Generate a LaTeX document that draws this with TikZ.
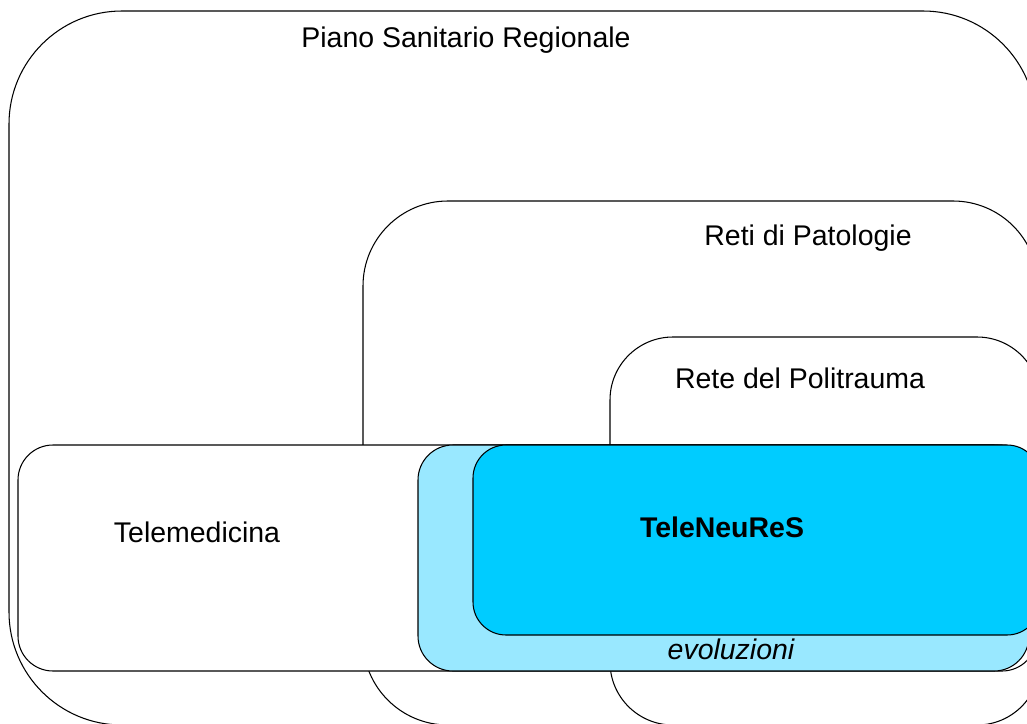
\documentclass[tikz,border=0pt]{standalone}
\usepackage{fontspec}
\setmainfont{Liberation Sans}
\definecolor{evolblue}{HTML}{99E8FF}
\definecolor{neublue}{HTML}{00CCFF}
\tikzset{
	area/.style = {draw = black, line width = 0.6pt},
	areatext/.style = {anchor = base, inner sep = 0pt, font = \fontsize{16.2}{19}\selectfont}
}

\begin{document}
\begin{tikzpicture}[x = 0.02cm, y = -0.02cm]
	 \useasboundingbox (0, 0) rectangle (1027, 723);
	 \clip (0, 0) rectangle (1027, 723);
	 
	 \draw[area] (1036, 725) [rounded corners = 2.26cm] -- (9, 725) -- (9, 11) -- (1036, 11) [sharp corners] -- cycle;
	 \draw[area] (1038, 725) [rounded corners = 1.7cm] -- (363, 725) -- (363, 201) -- (1038, 201) [sharp corners] -- cycle;
	 \draw[area, rounded corners = 1.26cm] (610, 337) rectangle (1040, 725);
	 
	 \draw[area, fill = white, rounded corners = 0.7cm] (18, 445) rectangle (1037, 671);
	 \draw[area, fill = evolblue, rounded corners = 0.7cm] (418, 445) rectangle (1029, 671);
	 \draw[area, fill = neublue, rounded corners = 0.66cm] (473, 445) rectangle (1040, 635);
	 
	 \node[areatext] (psr) at (466, 48) {Piano Sanitario Regionale};
	 \node[areatext] (reti) at (808, 245) {Reti di Patologie};
	 \node[areatext] (politrauma) at (800, 388) {Rete del Politrauma};
	 \node[areatext] (telemed) at (197, 542) {Telemedicina};
	 \node[areatext, font = \fontsize{16.2}{19}\selectfont\bfseries] (teleneures) at (722, 537) {TeleNeuReS};
	 \node[areatext, font = \fontsize{16.2}{19}\selectfont\itshape] (evol) at (731, 659) {evoluzioni};
\end{tikzpicture}
\end{document}
